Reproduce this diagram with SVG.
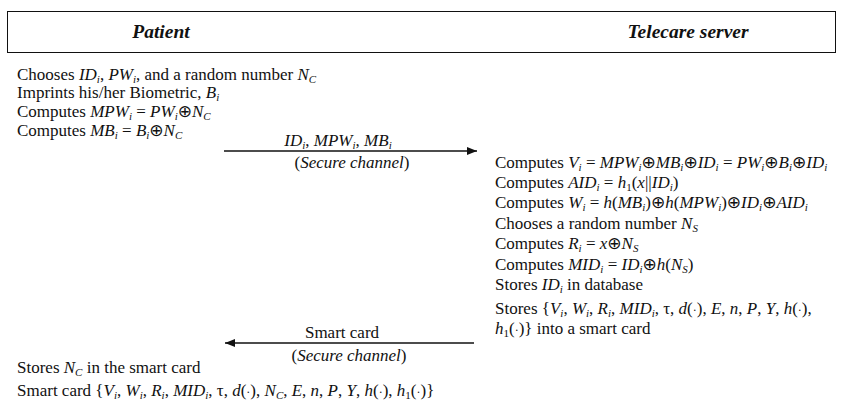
<svg xmlns="http://www.w3.org/2000/svg" width="843" height="404" viewBox="0 0 843 404">
  <style>
    text { font-family: "Liberation Serif", "Times New Roman", serif; font-size: 17px; fill: #111; }
    .i { font-style: italic; }
    .s { font-size: 11px; baseline-shift: -2.5px; font-style: italic; }
    .sn { font-size: 11px; baseline-shift: -2.5px; font-style: normal; }
    .x { font-family: "DejaVu Sans", sans-serif; font-size: 17px; }
    .dt { font-size: 12px; }
    .title { font-size: 19.5px; font-weight: bold; font-style: italic; }
    .msg { stroke: #111; stroke-width: 1.3; fill: none; }
  </style>
  <defs>
    <marker id="head" viewBox="0 0 10 8" refX="10" refY="4" markerWidth="10" markerHeight="8" markerUnits="userSpaceOnUse" orient="auto">
      <path d="M0,0 L10,4 L0,8 Z" fill="#111"/>
    </marker>
  </defs>

  <!-- header band with the two parties -->
  <g id="header">
    <rect x="7.5" y="11.5" width="828" height="41" fill="#fff" stroke="#111" stroke-width="1"/>
    <text class="title" x="161" y="38" text-anchor="middle">Patient</text>
    <text class="title" x="688" y="38" text-anchor="middle">Telecare server</text>
  </g>

  <!-- patient side, before sending -->
  <g id="patient-steps">
    <text x="17" y="80">Chooses <tspan class="i">ID</tspan><tspan class="s">i</tspan>, <tspan class="i">PW</tspan><tspan class="s">i</tspan>, and a random number <tspan class="i">N</tspan><tspan class="s">C</tspan></text>
    <text x="17" y="98">Imprints his/her Biometric, <tspan class="i">B</tspan><tspan class="s">i</tspan></text>
    <text x="17" y="117">Computes <tspan class="i">MPW</tspan><tspan class="s">i</tspan> = <tspan class="i">PW</tspan><tspan class="s">i</tspan><tspan class="x">⊕</tspan><tspan class="i">N</tspan><tspan class="s">C</tspan></text>
    <text x="17" y="136">Computes <tspan class="i">MB</tspan><tspan class="s">i</tspan> = <tspan class="i">B</tspan><tspan class="s">i</tspan><tspan class="x">⊕</tspan><tspan class="i">N</tspan><tspan class="s">C</tspan></text>
  </g>

  <!-- server side processing -->
  <g id="server-steps">
    <text x="495" y="168">Computes <tspan class="i">V</tspan><tspan class="s">i</tspan> = <tspan class="i">MPW</tspan><tspan class="s">i</tspan><tspan class="x">⊕</tspan><tspan class="i">MB</tspan><tspan class="s">i</tspan><tspan class="x">⊕</tspan><tspan class="i">ID</tspan><tspan class="s">i</tspan> = <tspan class="i">PW</tspan><tspan class="s">i</tspan><tspan class="x">⊕</tspan><tspan class="i">B</tspan><tspan class="s">i</tspan><tspan class="x">⊕</tspan><tspan class="i">ID</tspan><tspan class="s">i</tspan></text>
    <text x="495" y="188">Computes <tspan class="i">AID</tspan><tspan class="s">i</tspan> = <tspan class="i">h</tspan><tspan class="sn">1</tspan>(<tspan class="i">x</tspan>||<tspan class="i">ID</tspan><tspan class="s">i</tspan>)</text>
    <text x="495" y="208">Computes <tspan class="i">W</tspan><tspan class="s">i</tspan> = <tspan class="i">h</tspan>(<tspan class="i">MB</tspan><tspan class="s">i</tspan>)<tspan class="x">⊕</tspan><tspan class="i">h</tspan>(<tspan class="i">MPW</tspan><tspan class="s">i</tspan>)<tspan class="x">⊕</tspan><tspan class="i">ID</tspan><tspan class="s">i</tspan><tspan class="x">⊕</tspan><tspan class="i">AID</tspan><tspan class="s">i</tspan></text>
    <text x="495" y="229">Chooses a random number <tspan class="i">N</tspan><tspan class="s">S</tspan></text>
    <text x="495" y="249">Computes <tspan class="i">R</tspan><tspan class="s">i</tspan> = <tspan class="i">x</tspan><tspan class="x">⊕</tspan><tspan class="i">N</tspan><tspan class="s">S</tspan></text>
    <text x="495" y="270">Computes <tspan class="i">MID</tspan><tspan class="s">i</tspan> = <tspan class="i">ID</tspan><tspan class="s">i</tspan><tspan class="x">⊕</tspan><tspan class="i">h</tspan>(<tspan class="i">N</tspan><tspan class="s">S</tspan>)</text>
    <text x="495" y="290">Stores <tspan class="i">ID</tspan><tspan class="s">i</tspan> in database</text>
    <text x="495" y="314">Stores {<tspan class="i">V</tspan><tspan class="s">i</tspan>, <tspan class="i">W</tspan><tspan class="s">i</tspan>, <tspan class="i">R</tspan><tspan class="s">i</tspan>, <tspan class="i">MID</tspan><tspan class="s">i</tspan>, τ, <tspan class="i">d</tspan>(<tspan class="dt">·</tspan>), <tspan class="i">E</tspan>, <tspan class="i">n</tspan>, <tspan class="i">P</tspan>, <tspan class="i">Y</tspan>, <tspan class="i">h</tspan>(<tspan class="dt">·</tspan>),</text>
    <text x="495" y="334"><tspan class="i">h</tspan><tspan class="sn">1</tspan>(<tspan class="dt">·</tspan>)} into a smart card</text>
  </g>

  <!-- patient side, after receiving the card -->
  <g id="patient-card">
    <text x="17" y="373">Stores <tspan class="i">N</tspan><tspan class="s">C</tspan> in the smart card</text>
    <text x="17" y="396">Smart card {<tspan class="i">V</tspan><tspan class="s">i</tspan>, <tspan class="i">W</tspan><tspan class="s">i</tspan>, <tspan class="i">R</tspan><tspan class="s">i</tspan>, <tspan class="i">MID</tspan><tspan class="s">i</tspan>, τ, <tspan class="i">d</tspan>(<tspan class="dt">·</tspan>), <tspan class="i">N</tspan><tspan class="s">C</tspan>, <tspan class="i">E</tspan>, <tspan class="i">n</tspan>, <tspan class="i">P</tspan>, <tspan class="i">Y</tspan>, <tspan class="i">h</tspan>(<tspan class="dt">·</tspan>), <tspan class="i">h</tspan><tspan class="sn">1</tspan>(<tspan class="dt">·</tspan>)}</text>
  </g>

  <!-- messages over the secure channel -->
  <g id="connectors">
    <line class="msg" x1="224" y1="151" x2="477" y2="151" marker-end="url(#head)"/>
    <text x="338" y="146" text-anchor="middle"><tspan class="i">ID</tspan><tspan class="s">i</tspan>, <tspan class="i">MPW</tspan><tspan class="s">i</tspan>, <tspan class="i">MB</tspan><tspan class="s">i</tspan></text>
    <text x="352" y="168" text-anchor="middle">(<tspan class="i">Secure channel</tspan>)</text>

    <line class="msg" x1="474" y1="343" x2="225" y2="343" marker-end="url(#head)"/>
    <text x="342" y="338" text-anchor="middle">Smart card</text>
    <text x="349" y="361" text-anchor="middle">(<tspan class="i">Secure channel</tspan>)</text>
  </g>
</svg>
